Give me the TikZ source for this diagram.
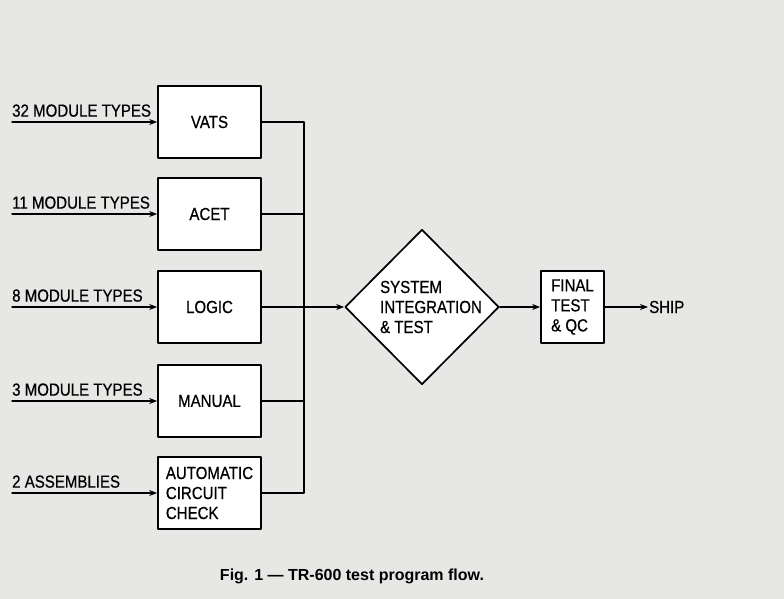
\documentclass[tikz,border=0pt]{standalone}
\usepackage{fontspec}
\setmainfont{Liberation Sans}[FakeStretch=0.86,FakeBold=0.6]
\newfontfamily\capfont{Liberation Sans}[Ligatures=TeX]
\usetikzlibrary{arrows.meta,shapes.geometric}
\definecolor{paper}{RGB}{231,231,229}

\begin{document}
\begin{tikzpicture}[x=1pt,y=-1pt,>={Stealth[length=8pt,width=6pt]},line cap=round,line join=round]
\fill[paper] (0,0) rectangle (784,599);
\useasboundingbox (0,0) rectangle (784,599);
\tikzset{stage/.style={draw,fill=white,line width=1.7pt,inner sep=0pt,minimum width=103pt,minimum height=72pt,align=left,font=\fontsize{17.5}{20}\selectfont},
  feed/.style={->,line width=1.4pt},
  tag/.style={anchor=south west,inner sep=0pt,font=\fontsize{17.5}{18}\selectfont}}
\node[stage] (vats) at (209.5,122) {VATS};
\node[stage] (acet) at (209.5,214) {ACET};
\node[stage] (logic) at (209.5,307) {LOGIC};
\node[stage] (manual) at (209.5,401) {MANUAL};
\node[stage] (acc) at (209.5,493) {AUTOMATIC\\CIRCUIT\\CHECK};
\node[diamond,draw,fill=white,line width=1.7pt,inner sep=0pt,minimum width=154pt,minimum height=155pt] (sit) at (422,307) {};
\node[align=left,inner sep=0pt,font=\fontsize{17.5}{20}\selectfont] (sittext) at ([xshift=9pt]sit.center) {SYSTEM\\INTEGRATION\\\& TEST};
\node[stage,minimum width=63pt] (final) at (572.5,307) {FINAL\\TEST\\\& QC};
\coordinate (i1) at (12,122);
\coordinate (i2) at (12,214);
\coordinate (i3) at (12,307);
\coordinate (i4) at (12,401);
\coordinate (i5) at (12,493);
\coordinate (bt) at (304,122);
\coordinate (bb) at (304,493);
\coordinate (s) at (648,307);
\node[tag] (l1) at (12,117) {32 MODULE TYPES};
\node[tag] (l2) at (12,209) {11 MODULE TYPES};
\node[tag] (l3) at (12,302) {8 MODULE TYPES};
\node[tag] (l4) at (12,396) {3 MODULE TYPES};
\node[tag] (l5) at (12,488) {2 ASSEMBLIES};
\draw[feed] (i1) -- (vats);
\draw[feed] (i2) -- (acet);
\draw[feed] (i3) -- (logic);
\draw[feed] (i4) -- (manual);
\draw[feed] (i5) -- (acc);
\draw[line width=1.4pt] (vats.east) -- (bt) -- (bb) -- (acc.east);
\draw[line width=1.4pt] (acet.east) -- (acet.east -| bt);
\draw[line width=1.4pt] (manual.east) -- (manual.east -| bt);
\draw[feed] (logic.east) -- (sit.west);
\draw[feed] (sit.east) -- (final.west);
\draw[feed] (final.east) -- (s);
\node[anchor=west,inner sep=1pt,font=\fontsize{17.5}{18}\selectfont] (ship) at (s) {SHIP};
\node[font=\capfont\bfseries\fontsize{16}{18}\selectfont] (cap) at (352,576) {Fig. 1 --- TR-600 test program flow.};
\end{tikzpicture}
\end{document}
